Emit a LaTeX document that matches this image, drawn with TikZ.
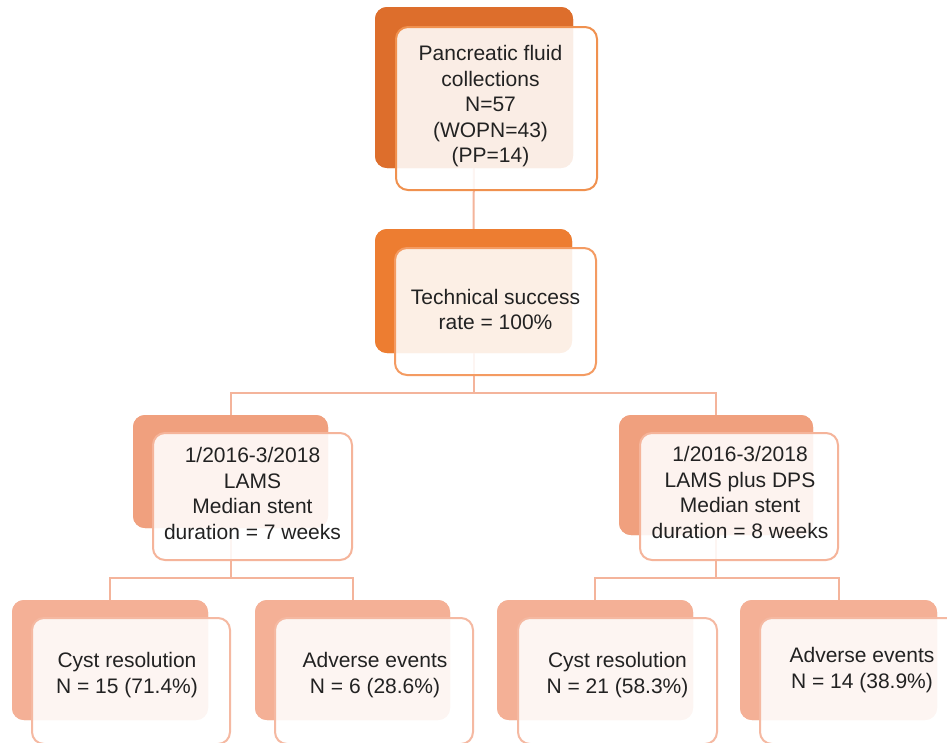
\documentclass[tikz,border=0pt]{standalone}
\usepackage{fontspec}
\setmainfont{Liberation Sans}
\usetikzlibrary{calc}
\definecolor{backA}{HTML}{DD6E2C}
\definecolor{backB}{HTML}{ED7D31}
\definecolor{backC}{HTML}{F0A07E}
\definecolor{backD}{HTML}{F4B096}
\definecolor{lineA}{HTML}{F0914F}
\definecolor{lineB}{HTML}{F49B62}
\definecolor{lineC}{HTML}{F5B49A}
\definecolor{lineD}{HTML}{F5B9A2}
\definecolor{conn}{HTML}{F4B49B}
\definecolor{txtc}{HTML}{222222}
\tikzset{
  backbox/.style={rectangle, rounded corners=12pt, inner sep=0pt, draw=none},
  frontbox/.style={rectangle, rounded corners=12pt, inner sep=0pt, line width=2pt, fill=white, fill opacity=0.88},
  txt/.style={align=center, text=txtc, font=\fontsize{21}{25.5}\selectfont, inner sep=0pt},
  link/.style={draw=conn, line width=2pt}
}
\begin{document}
\begin{tikzpicture}[x=1pt,y=-1pt]
\clip (0,0) rectangle (947,742);
\fill[white] (0,0) rectangle (947,742);
% back boxes
\node[backbox, fill=backA, minimum width=198pt, minimum height=161pt] (L1b) at (474,87.5) {};
\node[backbox, fill=backB, minimum width=197pt, minimum height=124pt] (L2b) at (473.5,291) {};
\node[backbox, fill=backC, minimum width=195pt, minimum height=113pt] (L3Lb) at (230.5,471.5) {};
\node[backbox, fill=backC, minimum width=194pt, minimum height=120pt] (L3Rb) at (716,475) {};
\node[backbox, fill=backD, minimum width=196pt, minimum height=120pt] (B1b) at (110,660) {};
\node[backbox, fill=backD, minimum width=195pt, minimum height=120pt] (B2b) at (352.5,660) {};
\node[backbox, fill=backD, minimum width=196pt, minimum height=120pt] (B3b) at (595,660) {};
\node[backbox, fill=backD, minimum width=197pt, minimum height=120pt] (B4b) at (838.5,660) {};
% junction coordinates
\coordinate (J2) at (0,393);
\coordinate (J3) at (0,578);
% connectors (behind the boxes)
\begin{scope}[on background layer/.try]
\end{scope}
\draw[link] (L1b.center) -- (L2b.center);
\draw[link] (L2b.center) -- (L2b.center |- J2);
\draw[link] (L3Lb.center) |- (L2b.center |- J2) -| (L3Rb.center);
\draw[link] (L3Lb.center) -- (L3Lb.center |- J3);
\draw[link] (B1b.center) |- (L3Lb.center |- J3) -| (B2b.center);
\draw[link] (L3Rb.center) -- (L3Rb.center |- J3);
\draw[link] (B3b.center) |- (L3Rb.center |- J3) -| (B4b.center);
% redraw back boxes over the connectors
\node[backbox, fill=backA, minimum width=198pt, minimum height=161pt] at (474,87.5) {};
\node[backbox, fill=backB, minimum width=197pt, minimum height=124pt] at (473.5,291) {};
\node[backbox, fill=backC, minimum width=195pt, minimum height=113pt] at (230.5,471.5) {};
\node[backbox, fill=backC, minimum width=194pt, minimum height=120pt] at (716,475) {};
\node[backbox, fill=backD, minimum width=196pt, minimum height=120pt] at (110,660) {};
\node[backbox, fill=backD, minimum width=195pt, minimum height=120pt] at (352.5,660) {};
\node[backbox, fill=backD, minimum width=196pt, minimum height=120pt] at (595,660) {};
\node[backbox, fill=backD, minimum width=197pt, minimum height=120pt] at (838.5,660) {};
% front boxes
\node[frontbox, draw=lineA, minimum width=201pt, minimum height=163pt] (L1) at (496.5,108.5) {};
\node[frontbox, draw=lineB, minimum width=201pt, minimum height=127pt] (L2) at (495.5,311.5) {};
\node[frontbox, draw=lineC, minimum width=199pt, minimum height=127pt] (L3L) at (252.5,496.5) {};
\node[frontbox, draw=lineC, minimum width=198pt, minimum height=127pt] (L3R) at (739,496.5) {};
\node[frontbox, draw=lineD, minimum width=198pt, minimum height=126pt] (B1) at (131,681) {};
\node[frontbox, draw=lineD, minimum width=198pt, minimum height=126pt] (B2) at (374,681) {};
\node[frontbox, draw=lineD, minimum width=199pt, minimum height=126pt] (B3) at (617.5,681) {};
\node[frontbox, draw=lineD, minimum width=200pt, minimum height=126pt] (B4) at (860,681) {};
% texts
\node[txt] (T1) at ($(L1.center)+(-6,-2)$) {Pancreatic fluid\\collections\\N=57\\(WOPN=43)\\(PP=14)};
\node[txt] (T2) at ($(L2.center)+(0,-2)$) {Technical success\\rate = 100\%};
\node[txt] (T3) at ($(L3L.center)+(0,-3)$) {1/2016-3/2018\\LAMS\\Median stent\\duration = 7 weeks};
\node[txt] (T4) at ($(L3R.center)+(1,-4)$) {1/2016-3/2018\\LAMS plus DPS\\Median stent\\duration = 8 weeks};
\node[txt] (T5) at ($(B1.center)+(-4,-6)$) {Cyst resolution\\N = 15 (71.4\%)};
\node[txt] (T6) at ($(B2.center)+(1,-6)$) {Adverse events\\N = 6 (28.6\%)};
\node[txt] (T7) at ($(B3.center)+(0,-6)$) {Cyst resolution\\N = 21 (58.3\%)};
\node[txt] (T8) at ($(B4.center)+(2,-11)$) {Adverse events\\N = 14 (38.9\%)};
\end{tikzpicture}
\end{document}
